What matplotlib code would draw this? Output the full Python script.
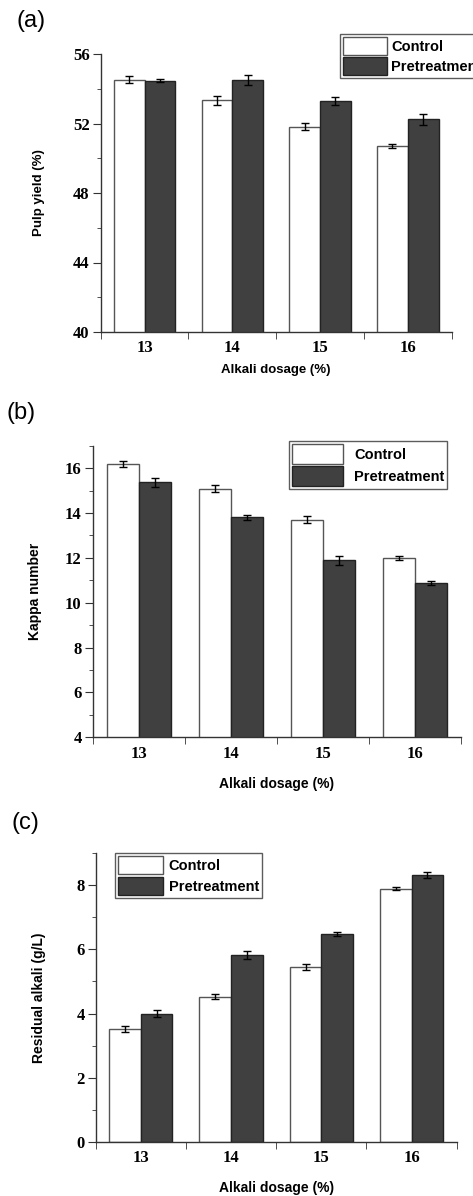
import numpy as np
import matplotlib.pyplot as plt
from matplotlib.ticker import MultipleLocator

# Datos
dosage = ['13', '14', '15', '16']

yield_control = [54.52, 53.33, 51.82, 50.70]
yield_control_err = [0.2, 0.28, 0.22, 0.1]
yield_pre = [54.46, 54.52, 53.28, 52.24]
yield_pre_err = [0.1, 0.3, 0.22, 0.3]

kappa_control = [16.18, 15.08, 13.70, 11.98]
kappa_control_err = [0.12, 0.15, 0.15, 0.09]
kappa_pre = [15.36, 13.80, 11.89, 10.88]
kappa_pre_err = [0.2, 0.13, 0.21, 0.1]

alkali_control = [3.51, 4.53, 5.46, 7.90]
alkali_control_err = [0.09, 0.09, 0.1, 0.05]
alkali_pre = [4.00, 5.82, 6.48, 8.32]
alkali_pre_err = [0.1, 0.12, 0.06, 0.1]

W, H = 473, 1196
fig = plt.figure(figsize=(W / 100, H / 100), dpi=100)

serif = 'Liberation Serif'
sans = 'Liberation Sans'
dark = '#404040'


def panel(box, letter, letter_xy, ctrl, ctrl_err, pre, pre_err, ylim, major, ylabel,
          lab_size, leg_anchor, leg_size, leg_handle, leg_sep, ylabel_x, xlabel_y):
    l, t, r, b = box
    ax = fig.add_axes([l / W, 1 - b / H, (r - l) / W, (b - t) / H])
    x = np.arange(1, 5)
    w = 0.35
    ax.bar(x - w / 2, ctrl, w, color='white', edgecolor='#555555', linewidth=1.0,
           yerr=ctrl_err, capsize=3, error_kw=dict(ecolor='black', elinewidth=1, capthick=1),
           label='Control', zorder=2)
    ax.bar(x + w / 2, pre, w, color=dark, edgecolor='#222222', linewidth=1.0,
           yerr=pre_err, capsize=3, error_kw=dict(ecolor='black', elinewidth=1, capthick=1),
           label='Pretreatment', zorder=2)
    ax.set_xlim(0.5, 4.5)
    ax.set_ylim(*ylim)
    for s in ['top', 'right']:
        ax.spines[s].set_visible(False)
    for s in ['left', 'bottom']:
        ax.spines[s].set_color('#333333')
        ax.spines[s].set_linewidth(1.0)
    ax.set_xticks(x)
    ax.set_xticklabels(dosage, fontfamily=serif, fontweight='bold', fontsize=12)
    ax.set_xticks(np.arange(0.5, 5, 1), minor=True)
    ax.tick_params(axis='x', which='major', length=0, pad=6)
    ax.tick_params(axis='x', which='minor', length=5, direction='out', color='#333333')
    ax.yaxis.set_major_locator(MultipleLocator(major))
    ax.yaxis.set_minor_locator(MultipleLocator(major / 2))
    ax.tick_params(axis='y', which='major', length=6, direction='out', color='#333333', pad=2)
    ax.tick_params(axis='y', which='minor', length=3, direction='out', color='#333333')
    for lab in ax.get_yticklabels():
        lab.set_fontfamily(serif)
        lab.set_fontweight('bold')
        lab.set_fontsize(12)
    ax.set_ylabel(ylabel, fontfamily=sans, fontweight='bold', fontsize=lab_size)
    ax.yaxis.set_label_coords((ylabel_x - l) / (r - l), 0.5)
    fig.text(((l + r) / 2) / W, 1 - xlabel_y / H, 'Alkali dosage (%)', fontfamily=sans,
             fontweight='bold', fontsize=lab_size, ha='center', va='center')
    fig.text(letter_xy[0] / W, 1 - letter_xy[1] / H, letter, fontfamily=sans, fontsize=17,
             ha='left', va='center')
    leg = ax.legend(loc='upper left', bbox_to_anchor=(leg_anchor[0] / W, 1 - leg_anchor[1] / H),
                    bbox_transform=fig.transFigure, frameon=True, fancybox=False,
                    prop=dict(family=sans, weight='bold', size=leg_size),
                    handlelength=leg_handle[0], handleheight=leg_handle[1],
                    handletextpad=leg_sep, labelspacing=0.15, borderpad=0.2,
                    borderaxespad=0)
    leg.get_frame().set_edgecolor('#333333')
    leg.get_frame().set_linewidth(1.0)
    return ax


panel((100.7, 54, 451.7, 332), '(a)', (17, 21), yield_control, yield_control_err,
      yield_pre, yield_pre_err, (40, 56), 4, 'Pulp yield (%)', 9.5,
      (340, 34), 10.5, (3.0, 1.5), 0.3, 45, 370)

panel((92.7, 445.7, 461, 737.3), '(b)', (6, 413), kappa_control, kappa_control_err,
      kappa_pre, kappa_pre_err, (4, 17), 2, 'Kappa number', 10,
      (288.7, 441), 10.5, (3.5, 1.75), 0.8, 42, 784)

panel((95.7, 853.3, 456.7, 1141.7), '(c)', (11, 823), alkali_control, alkali_control_err,
      alkali_pre, alkali_pre_err, (0, 9), 2, 'Residual alkali (g/L)', 10,
      (115.3, 853.3), 10.5, (3.1, 1.55), 0.35, 45.7, 1188)

fig.savefig('out.png', dpi=100)
